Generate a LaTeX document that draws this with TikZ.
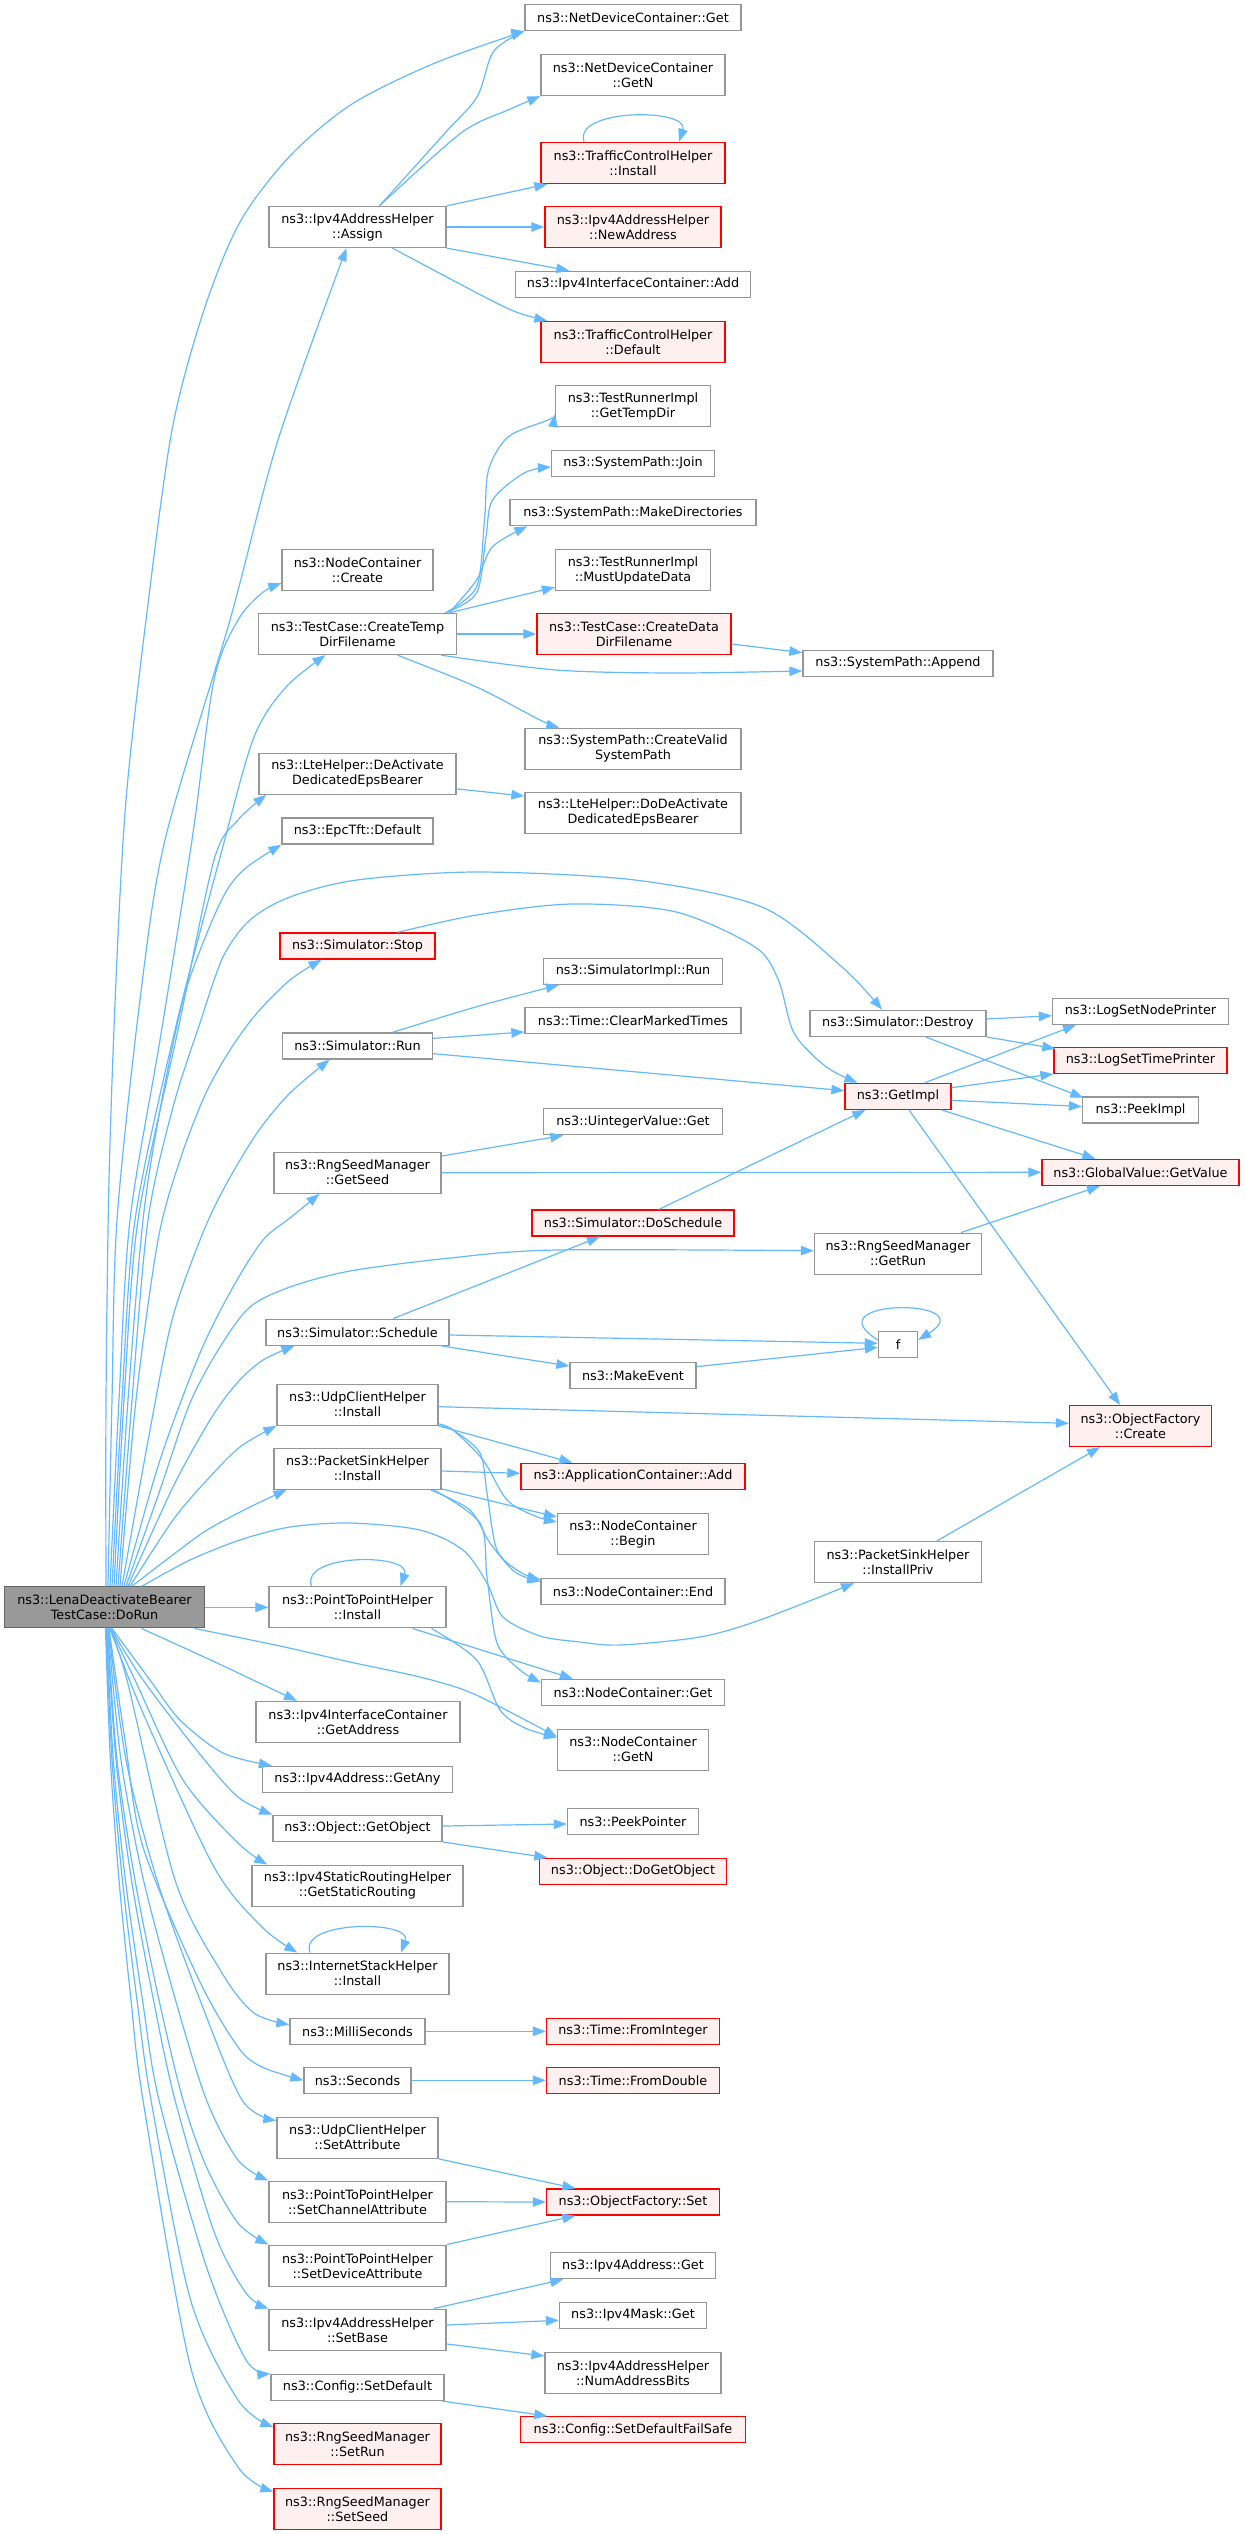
\documentclass[tikz,border=0pt]{standalone}
\usepackage{fontspec}
\setmainfont{DejaVu Sans}
\usetikzlibrary{arrows.meta}
\definecolor{edgeblue}{RGB}{99,184,255}
\definecolor{boxgray}{RGB}{150,150,150}
\definecolor{redfill}{RGB}{255,240,240}
\definecolor{rootfill}{RGB}{153,153,153}
\definecolor{rootdraw}{RGB}{102,102,102}
\begin{document}
\begin{tikzpicture}[x=1pt,y=-1pt,
  box/.style={draw=boxgray,fill=white,line width=1.3pt,inner sep=0pt,align=center,
    font=\fontsize{12.8pt}{15pt}\selectfont,minimum height=26pt},
  two/.style={minimum height=41pt},
  redbox/.style={box,draw=red,fill=redfill},
  rootbox/.style={box,draw=rootdraw,fill=rootfill},
  conn/.style={draw=edgeblue,line width=1.2pt,-{Triangle[length=13pt,width=9.5pt]}},
  sm/.style={smooth,tension=.5}]
\useasboundingbox (0,0) rectangle (1245,2534);

% ---------------- nodes
\node[box,minimum width=216pt] (ndcGet) at (633,17.7) {ns3::NetDeviceContainer::Get};
\node[box,two,minimum width=184pt] (ndcGetN) at (633,75) {ns3::NetDeviceContainer\\::GetN};
\node[redbox,two,minimum width=184pt] (tchInstall) at (633,163) {ns3::TrafficControlHelper\\::Install};
\node[redbox,two,minimum width=176pt] (newAddr) at (633,227) {ns3::Ipv4AddressHelper\\::NewAddress};
\node[box,minimum width=235pt] (iicAdd) at (633,284.3) {ns3::Ipv4InterfaceContainer::Add};
\node[redbox,two,minimum width=184pt] (tchDefault) at (633,342) {ns3::TrafficControlHelper\\::Default};
\node[box,two,minimum width=177pt] (assign) at (357.5,227) {ns3::Ipv4AddressHelper\\::Assign};
\node[box,two,minimum width=155pt] (getTempDir) at (633,406) {ns3::TestRunnerImpl\\::GetTempDir};
\node[box,minimum width=163pt] (join) at (633,463.3) {ns3::SystemPath::Join};
\node[box,minimum width=246pt] (makeDirs) at (633,512.7) {ns3::SystemPath::MakeDirectories};
\node[box,two,minimum width=155pt] (mustUpdate) at (633,570) {ns3::TestRunnerImpl\\::MustUpdateData};
\node[box,two,minimum width=151pt] (ncCreate) at (357.5,570) {ns3::NodeContainer\\::Create};
\node[box,two,minimum width=198pt] (createTemp) at (357.5,634) {ns3::TestCase::CreateTemp\\DirFilename};
\node[redbox,two,minimum width=194pt] (createData) at (634,634) {ns3::TestCase::CreateData\\DirFilename};
\node[box,minimum width=190pt] (append) at (898,663.3) {ns3::SystemPath::Append};
\node[box,two,minimum width=216pt] (createValid) at (633,748.7) {ns3::SystemPath::CreateValid\\SystemPath};
\node[box,two,minimum width=197pt] (deAct) at (357.5,773.7) {ns3::LteHelper::DeActivate\\DedicatedEpsBearer};
\node[box,two,minimum width=216pt] (doDeAct) at (633,812.7) {ns3::LteHelper::DoDeActivate\\DedicatedEpsBearer};
\node[box,minimum width=151pt] (epcDefault) at (357.5,831) {ns3::EpcTft::Default};
\node[redbox,minimum width=155pt] (stop) at (357.5,946) {ns3::Simulator::Stop};
\node[box,minimum width=179pt] (simImplRun) at (633,971.3) {ns3::SimulatorImpl::Run};
\node[box,minimum width=216pt] (clearMarked) at (633,1020.3) {ns3::Time::ClearMarkedTimes};
\node[box,minimum width=150pt] (simRun) at (357.5,1046) {ns3::Simulator::Run};
\node[box,minimum width=176pt] (destroy) at (898,1023.3) {ns3::Simulator::Destroy};
\node[box,minimum width=176pt] (logNode) at (1140.5,1011.3) {ns3::LogSetNodePrinter};
\node[redbox,minimum width=173pt] (logTime) at (1140.5,1060.3) {ns3::LogSetTimePrinter};
\node[redbox,minimum width=106pt] (getImpl) at (898,1096.3) {ns3::GetImpl};
\node[box,minimum width=116pt] (peekImpl) at (1140.5,1110) {ns3::PeekImpl};
\node[box,minimum width=179pt] (uintGet) at (633,1121.7) {ns3::UintegerValue::Get};
\node[box,two,minimum width=167pt] (getSeed) at (357.5,1172.7) {ns3::RngSeedManager\\::GetSeed};
\node[redbox,minimum width=197pt] (getValue) at (1140.5,1172.3) {ns3::GlobalValue::GetValue};
\node[redbox,minimum width=202pt] (doSchedule) at (633,1223) {ns3::Simulator::DoSchedule};
\node[box,two,minimum width=167pt] (getRun) at (898,1253.7) {ns3::RngSeedManager\\::GetRun};
\node[box,minimum width=183pt] (schedule) at (357.5,1332.3) {ns3::Simulator::Schedule};
\node[box,minimum width=39pt] (f) at (898,1344.3) {f};
\node[box,minimum width=126pt] (makeEvent) at (633,1375.3) {ns3::MakeEvent};
\node[box,two,minimum width=161pt] (udpInstall) at (357.5,1404.7) {ns3::UdpClientHelper\\::Install};
\node[redbox,two,minimum width=142pt] (ofCreate) at (1140.5,1426) {ns3::ObjectFactory\\::Create};
\node[box,two,minimum width=167pt] (psInstall) at (357.5,1468.7) {ns3::PacketSinkHelper\\::Install};
\node[redbox,minimum width=224pt] (appAdd) at (633,1476.3) {ns3::ApplicationContainer::Add};
\node[box,two,minimum width=151pt] (ncBegin) at (633,1534) {ns3::NodeContainer\\::Begin};
\node[box,two,minimum width=167pt] (installPriv) at (898,1562) {ns3::PacketSinkHelper\\::InstallPriv};
\node[box,minimum width=184pt] (ncEnd) at (633,1591.3) {ns3::NodeContainer::End};
\node[rootbox,two,minimum width=200pt] (doRun) at (104.5,1607.3) {ns3::LenaDeactivateBearer\\TestCase::DoRun};
\node[box,two,minimum width=177pt] (p2pInstall) at (357.5,1607.3) {ns3::PointToPointHelper\\::Install};
\node[box,minimum width=183pt] (ncGet) at (633,1692.3) {ns3::NodeContainer::Get};
\node[box,two,minimum width=204pt] (getAddress) at (358,1722) {ns3::Ipv4InterfaceContainer\\::GetAddress};
\node[box,two,minimum width=151pt] (ncGetN) at (633,1749.7) {ns3::NodeContainer\\::GetN};
\node[box,minimum width=190pt] (getAny) at (357.5,1779.3) {ns3::Ipv4Address::GetAny};
\node[box,minimum width=169pt] (getObject) at (357.5,1828.3) {ns3::Object::GetObject};
\node[box,minimum width=131pt] (peekPointer) at (633,1821.7) {ns3::PeekPointer};
\node[redbox,minimum width=187pt] (doGetObject) at (633,1871.3) {ns3::Object::DoGetObject};
\node[box,two,minimum width=211pt] (getStatic) at (357.5,1885.7) {ns3::Ipv4StaticRoutingHelper\\::GetStaticRouting};
\node[box,two,minimum width=183pt] (ishInstall) at (357.5,1973.7) {ns3::InternetStackHelper\\::Install};
\node[box,minimum width=135pt] (milli) at (357.5,2031.3) {ns3::MilliSeconds};
\node[redbox,minimum width=173pt] (fromInt) at (633,2031.3) {ns3::Time::FromInteger};
\node[box,minimum width=107pt] (seconds) at (357.5,2080.3) {ns3::Seconds};
\node[redbox,minimum width=173pt] (fromDouble) at (633,2080.3) {ns3::Time::FromDouble};
\node[box,two,minimum width=161pt] (setAttr) at (357.5,2137.7) {ns3::UdpClientHelper\\::SetAttribute};
\node[box,two,minimum width=177pt] (setChan) at (357.5,2201.7) {ns3::PointToPointHelper\\::SetChannelAttribute};
\node[redbox,minimum width=173pt] (ofSet) at (633,2202) {ns3::ObjectFactory::Set};
\node[box,two,minimum width=177pt] (setDev) at (357.5,2265.7) {ns3::PointToPointHelper\\::SetDeviceAttribute};
\node[box,minimum width=165pt] (ipGet) at (633,2265.7) {ns3::Ipv4Address::Get};
\node[box,minimum width=147pt] (maskGet) at (633,2315.3) {ns3::Ipv4Mask::Get};
\node[box,two,minimum width=177pt] (setBase) at (357.5,2329.7) {ns3::Ipv4AddressHelper\\::SetBase};
\node[box,two,minimum width=176pt] (numBits) at (633,2372.7) {ns3::Ipv4AddressHelper\\::NumAddressBits};
\node[box,minimum width=173pt] (setDefault) at (357.5,2387.3) {ns3::Config::SetDefault};
\node[redbox,minimum width=225pt] (failSafe) at (633,2429.7) {ns3::Config::SetDefaultFailSafe};
\node[redbox,two,minimum width=167pt] (setRun) at (357.5,2444.3) {ns3::RngSeedManager\\::SetRun};
\node[redbox,two,minimum width=167pt] (setSeed) at (357.5,2508.7) {ns3::RngSeedManager\\::SetSeed};

% ---------------- fan upward from DoRun
\draw[conn] plot[sm] coordinates {([shift={(1.5,0)}]doRun.north) (106,1400) (109,1180) (116,980) (126,800) (146,620) (172,430) (204,310) (240,222) (290,156) (352,104) (435,63) (ndcGet.south west)};
\draw[conn] plot[sm] coordinates {([shift={(3.5,0)}]doRun.north) (112,1400) (117,1220) (140,1000) (165,840) (230,620) (278,440) ([shift={(-11,0)}]assign.south)};
\draw[conn] plot[sm] coordinates {([shift={(5.5,0)}]doRun.north) (119,1400) (130,1220) (160,1040) (192,840) (214,680) (238,620) (262,593) ([shift={(0,-8)}]ncCreate.south west)};
\draw[conn] plot[sm] coordinates {([shift={(7.5,0)}]doRun.north) (122,1400) (135,1220) (175,1030) (222,850) (254,737) (286,687) ([shift={(-32,0)}]createTemp.south)};
\draw[conn] plot[sm] coordinates {([shift={(9.5,0)}]doRun.north) (124,1400) (138,1220) (178,1030) (214,860) (238,820) ([shift={(8,0)}]deAct.south west)};
\draw[conn] plot[sm] coordinates {([shift={(11.5,0)}]doRun.north) (128,1400) (143,1220) (160,1110) (183,1000) (207,933) (227,890) (247,867) (epcDefault.south west)};
\draw[conn] plot[sm] coordinates {([shift={(13.5,0)}]doRun.north) (132,1400) (148,1220) (173,1107) (200,1023) (223,957) (250,920) (290,897) (357,880) (477,872) (635,880) (762,907) (842,967) ([shift={(-16,0)}]destroy.north)};
\draw[conn] plot[sm] coordinates {([shift={(15.5,0)}]doRun.north) (136,1400) (158,1240) (180,1160) (205,1095) (230,1050) (257,1013) (290,980) ([shift={(-36,0)}]stop.south)};
\draw[conn] plot[sm] coordinates {([shift={(17.5,0)}]doRun.north) (150,1430) (172,1320) (200,1240) (223,1190) (257,1133) (290,1093) ([shift={(-28,0)}]simRun.south)};
\draw[conn] plot[sm] coordinates {([shift={(19.5,0)}]doRun.north) (160,1460) (200,1353) (233,1287) (263,1240) (290,1218) ([shift={(-38,0)}]getSeed.south)};
\draw[conn] plot[sm] coordinates {([shift={(21.5,0)}]doRun.north) (160,1490) (190,1403) (220,1347) (250,1307) (290,1287) (350,1271) (450,1258) (556,1250) ([shift={(0,-3)}]getRun.west)};
\draw[conn] plot[sm] coordinates {([shift={(23.5,0)}]doRun.north) (173,1487) (210,1420) (237,1383) (263,1360) ([shift={(-63,0)}]schedule.south)};
\draw[conn] plot[sm] coordinates {([shift={(25.5,0)}]doRun.north) (173,1520) (207,1480) (240,1447) (udpInstall.south west)};
\draw[conn] plot[sm] coordinates {([shift={(27.5,0)}]doRun.north) (170,1557) (207,1530) (250,1507) ([shift={(-71,0)}]psInstall.south)};
\draw[conn] plot[sm] coordinates {([shift={(37.5,0)}]doRun.north) (190,1560) (240,1540) (290,1527) (350,1523) (420,1530) (463,1550) (487,1583) (503,1617) (540,1636) (580,1642) (620,1645) (700,1637) (760,1620) ([shift={(-44,0)}]installPriv.south)};
\draw[conn] (doRun.east) -- (p2pInstall.west);

% ---------------- fan downward from DoRun
\draw[conn] plot[sm] coordinates {([shift={(90,0)}]doRun.south) (280,1646) (350,1662) (420,1677) (467,1691) (510,1712) ([shift={(0,-13)}]ncGetN.west)};
\draw[conn] plot[sm] coordinates {([shift={(37,0)}]doRun.south) (215,1662) ([shift={(-61,0)}]getAddress.north)};
\draw[conn] plot[sm] coordinates {([shift={(7.5,0)}]doRun.south) (150,1680) (180,1720) (223,1753) ([shift={(10,0)}]getAny.north west)};
\draw[conn] plot[sm] coordinates {([shift={(6.5,0)}]doRun.south) (143,1680) (199,1753) (238,1797) (getObject.north west)};
\draw[conn] plot[sm] coordinates {([shift={(6,0)}]doRun.south) (135,1680) (183,1780) (238,1843) ([shift={(16,0)}]getStatic.north west)};
\draw[conn] plot[sm] coordinates {([shift={(5.5,0)}]doRun.south) (143,1713) (214,1867) (262,1927) ([shift={(32,0)}]ishInstall.north west)};
\draw[conn] plot[sm] coordinates {([shift={(5,0)}]doRun.south) (127,1680) (175,1880) (222,1973) (254,2013) ([shift={(0,7)}]milli.north west)};
\draw[conn] plot[sm] coordinates {([shift={(4.5,0)}]doRun.south) (125,1740) (143,1847) (199,1980) (238,2047) (262,2067) (seconds.west)};
\draw[conn] plot[sm] coordinates {([shift={(4,0)}]doRun.south) (126,1760) (157,1880) (200,2000) (242,2100) ([shift={(0,4)}]setAttr.north west)};
\draw[conn] plot[sm] coordinates {([shift={(3.5,0)}]doRun.south) (121,1760) (143.5,1880) (175.5,2000) (206.5,2100) (238,2160) (setChan.north west)};
\draw[conn] plot[sm] coordinates {([shift={(3,0)}]doRun.south) (117,1760) (135,1880) (159,2000) (183,2100) (206.5,2167) (238,2223) (setDev.north west)};
\draw[conn] plot[sm] coordinates {([shift={(2.5,0)}]doRun.south) (116,1760) (131.5,1880) (153.5,2000) (175,2100) (214.5,2233) (246,2293) (setBase.north west)};
\draw[conn] plot[sm] coordinates {([shift={(2,0)}]doRun.south) (113.3,1760) (125.4,1880) (142.5,2000) (159,2100) (206.5,2267) (246,2360) (setDefault.north west)};
\draw[conn] plot[sm] coordinates {([shift={(1.5,0)}]doRun.south) (112,1760) (122.4,1880) (137,2000) (151,2100) (190.6,2300) (238,2400) ([shift={(0,4)}]setRun.north west)};
\draw[conn] plot[sm] coordinates {([shift={(1,0)}]doRun.south) (110.4,1760) (119,1880) (131,2000) (143,2100) (190.6,2367) (238,2467) ([shift={(0,4)}]setSeed.north west)};

% ---------------- Assign
\draw[conn] (assign.north east) -- ([shift={(7,0)}]tchInstall.south west);
\draw[conn] (assign.east) -- (newAddr.west);
\draw[conn] (assign.south east) -- ([shift={(54.5,0)}]iicAdd.north west);
\draw[conn] plot[sm] coordinates {([shift={(22,0)}]assign.north) (445,133) (477,97) (492.5,53) (516,35) (ndcGet.south west)};
\draw[conn] plot[sm] coordinates {([shift={(22,0)}]assign.north) (461,133) (508,110) (ndcGetN.south west)};
\draw[conn] plot[sm] coordinates {([shift={(35,0)}]assign.south) (477,293) (516,312) ([shift={(7,0)}]tchDefault.north west)};
\draw[conn] ([shift={(-49,0)}]tchInstall.north) .. controls (573,108) and (690,108) .. ([shift={(46,0)}]tchInstall.north);

% ---------------- CreateTempDirFilename
\draw[conn] plot[sm] coordinates {([shift={(-12,0)}]createTemp.north east) (476.6,586.7) (484.5,520) (488.5,470) (508.3,436.7) (548,420) ([shift={(0,-13)}]getTempDir.south west)};
\draw[conn] plot[sm] coordinates {([shift={(-12,0)}]createTemp.north east) (476.6,593) (486,537) (492.5,500) (524,473) ([shift={(0,-10)}]join.south west)};
\draw[conn] plot[sm] coordinates {([shift={(-8,0)}]createTemp.north east) (476.6,580) (492.5,546.7) ([shift={(18,0)}]makeDirs.south west)};
\draw[conn] ([shift={(-8,0)}]createTemp.north east) -- ([shift={(0,-4)}]mustUpdate.south west);
\draw[conn] (createTemp.east) -- (createData.west);
\draw[conn] plot[sm] coordinates {([shift={(-16,0)}]createTemp.south east) (556,670) (675,673) ([shift={(0,-6)}]append.south west)};
\draw[conn] ([shift={(0,10)}]createData.east) -- ([shift={(0,3)}]append.north west);
\draw[conn] plot[sm] coordinates {([shift={(40,0)}]createTemp.south) (476.6,687) (540,720) ([shift={(35,0)}]createValid.north west)};

\draw[conn] ([shift={(0,-6)}]deAct.south east) -- ([shift={(0,4.5)}]doDeAct.north west);

% ---------------- Simulator group
\draw[conn] plot[sm] coordinates {([shift={(40,0)}]stop.north) (476.6,915) (572,904) (675,911.7) (754.6,946.7) (778.4,980) (794,1033) (826,1066.7) ([shift={(13,0)}]getImpl.north west)};
\draw[conn] plot[sm] coordinates {([shift={(35,0)}]simRun.north) (476.6,1006.7) ([shift={(16,0)}]simImplRun.south west)};
\draw[conn] ([shift={(0,6)}]simRun.north east) -- ([shift={(0,-2)}]clearMarked.south west);
\draw[conn] ([shift={(0,-6)}]simRun.south east) -- ([shift={(0,8)}]getImpl.north west);
\draw[conn] ([shift={(0,-4.3)}]destroy.east) -- ([shift={(0,4.4)}]logNode.west);
\draw[conn] (destroy.south east) -- ([shift={(2,2)}]logTime.north west);
\draw[conn] ([shift={(-61,0)}]destroy.south east) -- ([shift={(1.5,1.3)}]peekImpl.north west);
\draw[conn] ([shift={(27,0)}]getImpl.north) -- ([shift={(-64.5,0)}]logNode.south);
\draw[conn] ([shift={(0,5)}]getImpl.north east) -- (logTime.south west);
\draw[conn] ([shift={(0,4)}]getImpl.east) -- ([shift={(0,-3.5)}]peekImpl.west);
\draw[conn] ([shift={(-10,0)}]getImpl.south east) -- ([shift={(54,0)}]getValue.north west);
\draw[conn] ([shift={(11,0)}]getImpl.south) -- ([shift={(-20.5,0)}]ofCreate.north);
\draw[conn] ([shift={(0,4.5)}]getSeed.north east) -- ([shift={(20.5,0)}]uintGet.south west);
\draw[conn] (getSeed.east) -- (getValue.west);
\draw[conn] ([shift={(26,0)}]doSchedule.north) -- ([shift={(21,0)}]getImpl.south west);
\draw[conn] ([shift={(63,0)}]getRun.north) -- ([shift={(-40.5,0)}]getValue.south);
\draw[conn] ([shift={(35.5,0)}]schedule.north) -- ([shift={(-33,0)}]doSchedule.south);
\draw[conn] ([shift={(0,2.7)}]schedule.east) -- ([shift={(0,-1)}]f.west);
\draw[conn] ([shift={(-8,0)}]schedule.south east) -- ([shift={(0,4.4)}]makeEvent.north west);
\draw[conn] ([shift={(0,5)}]makeEvent.north east) -- ([shift={(0,3)}]f.west);
\draw[conn] ([shift={(0,-4.3)}]f.west) .. controls (810,1298) and (985,1298) .. ([shift={(0,-4.3)}]f.east);

% ---------------- Install helpers
\draw[conn] ([shift={(0,2)}]udpInstall.east) -- ([shift={(0,-2.7)}]ofCreate.west);
\draw[conn] (udpInstall.south east) -- ([shift={(52,0)}]appAdd.north west);
\draw[conn] plot[sm] coordinates {([shift={(0,-2)}]udpInstall.south east) (453,1430) (483,1460) (507,1500) (535,1516) ([shift={(0,-12)}]ncBegin.west)};
\draw[conn] plot[sm] coordinates {(udpInstall.south east) (453,1430) (480,1453) (487,1493) (497,1550) (520,1572) ([shift={(0,2)}]ncEnd.north west)};
\draw[conn] ([shift={(0,2.3)}]psInstall.east) -- ([shift={(0,-3)}]appAdd.west);
\draw[conn] ([shift={(0,-1)}]psInstall.south east) -- ([shift={(0,-17)}]ncBegin.west);
\draw[conn] plot[sm] coordinates {([shift={(-11,0)}]psInstall.south east) (470,1510) (490,1543) (515,1572) ([shift={(0,4)}]ncEnd.north west)};
\draw[conn] plot[sm] coordinates {([shift={(-8,0)}]psInstall.south east) (480,1523) (487,1577) (497,1643) (520,1670) ([shift={(0,4)}]ncGet.north west)};
\draw[conn] ([shift={(39,0)}]installPriv.north) -- ([shift={(-40.5,0)}]ofCreate.south);
\draw[conn] ([shift={(-46,0)}]p2pInstall.north) .. controls (300,1553) and (412,1553) .. ([shift={(43,0)}]p2pInstall.north);
\draw[conn] ([shift={(55,0)}]p2pInstall.south) -- ([shift={(32,0)}]ncGet.north west);
\draw[conn] plot[sm] coordinates {([shift={(74,0)}]p2pInstall.south) (476.7,1660) (500,1710) (525,1728) ([shift={(0,-12)}]ncGetN.west)};

% ---------------- lower group
\draw[conn] ([shift={(0,-2.3)}]getObject.east) -- ([shift={(0,2.3)}]peekPointer.west);
\draw[conn] (getObject.south east) -- ([shift={(8.5,0)}]doGetObject.north west);
\draw[conn] ([shift={(-47.5,0)}]ishInstall.north) .. controls (298,1920) and (413,1920) .. ([shift={(43.5,0)}]ishInstall.north);
\draw[conn] (milli.east) -- (fromInt.west);
\draw[conn] (seconds.east) -- (fromDouble.west);
\draw[conn] (setAttr.south east) -- ([shift={(29.5,0)}]ofSet.north west);
\draw[conn] (setChan.east) -- (ofSet.west);
\draw[conn] (setDev.north east) -- ([shift={(29.5,0)}]ofSet.south west);
\draw[conn] ([shift={(-13,0)}]setBase.north east) -- ([shift={(13.5,0)}]ipGet.south west);
\draw[conn] ([shift={(0,-4.7)}]setBase.east) -- ([shift={(0,5)}]maskGet.west);
\draw[conn] ([shift={(0,-6.9)}]setBase.south east) -- ([shift={(0,4.4)}]numBits.north west);
\draw[conn] ([shift={(-3,0)}]setDefault.south east) -- ([shift={(27.5,0)}]failSafe.north west);
\end{tikzpicture}
\end{document}
